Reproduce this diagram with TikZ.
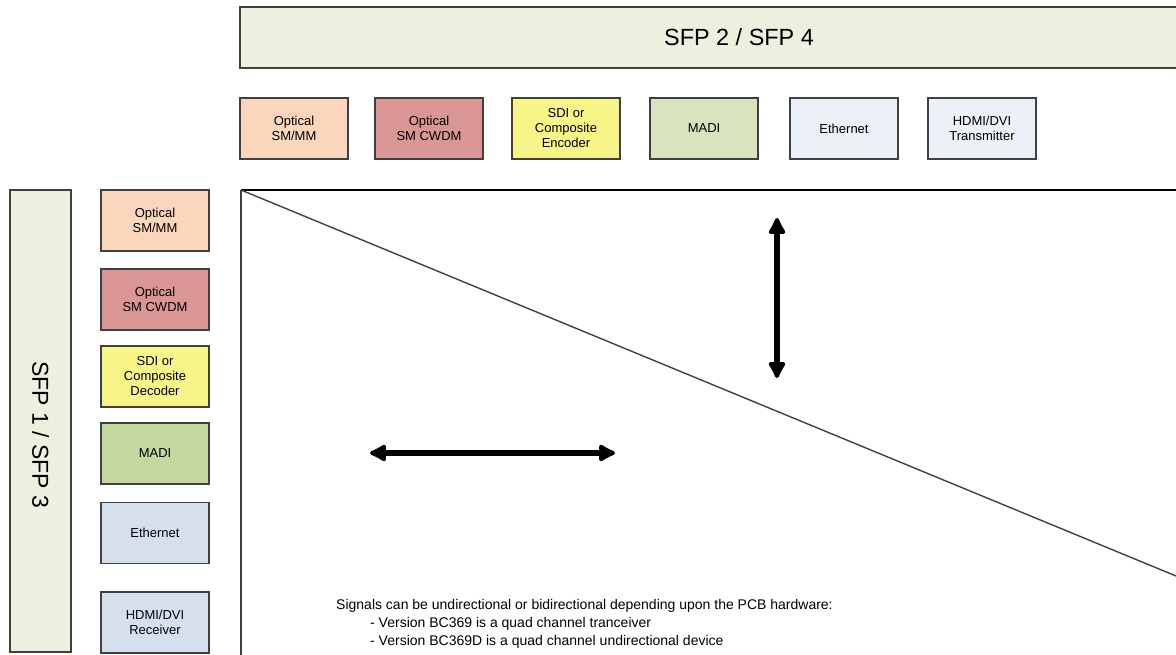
\documentclass[tikz,border=0pt]{standalone}
\usepackage{fontspec}
\setmainfont{Liberation Sans}
\usetikzlibrary{arrows.meta}

\definecolor{sfpgreen}{HTML}{EBF1DE}
\definecolor{peach}{HTML}{FAD7BC}
\definecolor{cwdm}{HTML}{D99694}
\definecolor{sdiyellow}{HTML}{F8F588}
\definecolor{madilight}{HTML}{D7E4BD}
\definecolor{madidark}{HTML}{C4D79C}
\definecolor{ethlight}{HTML}{ECF0F7}
\definecolor{ethdark}{HTML}{D5E0EC}
\definecolor{edge}{HTML}{404040}

\tikzset{
  modbox/.style={draw=edge, line width=1.3pt, minimum width=108pt, minimum height=61pt,
    inner sep=0pt, align=center, font=\fontsize{13}{15}\selectfont},
  sfpbox/.style={draw=edge, line width=1.3pt, fill=sfpgreen, inner sep=0pt},
  bigarrow/.style={line width=6pt, {Latex[length=20pt,width=21pt,round]}-{Latex[length=20pt,width=21pt,round]}}
}

\begin{document}
\begin{tikzpicture}[x=1pt,y=-1pt]
\useasboundingbox (0,0) rectangle (1176,655);

% SFP headers
\node[sfpbox, minimum width=998pt, minimum height=61pt, font=\fontsize{23.4}{26}\selectfont] (sfpB) at (739,37.5) {SFP 2 / SFP 4};
\node[sfpbox, minimum width=61pt, minimum height=462pt] (sfpA) at (40.5,421) {};
\node[rotate=-90, font=\fontsize{23}{26}\selectfont] (sfpAtxt) at (40.5,435) {SFP 1 / SFP 3};

% top row
\node[modbox, fill=peach] (tOpt) at (294,128.5) {Optical\\SM/MM};
\node[modbox, fill=cwdm] (tCwdm) at (429,128.5) {Optical\\SM CWDM};
\node[modbox, fill=sdiyellow] (tSdi) at (566,128.5) {SDI or\\Composite\\Encoder};
\node[modbox, fill=madilight] (tMadi) at (704,128.5) {MADI};
\node[modbox, fill=ethlight] (tEth) at (844,128.5) {Ethernet};
\node[modbox, fill=ethlight] (tHdmi) at (982,128.5) {HDMI/DVI\\Transmitter};

% left column
\node[modbox, fill=peach] (lOpt) at (155,220.5) {Optical\\SM/MM};
\node[modbox, fill=cwdm] (lCwdm) at (155,299.5) {Optical\\SM CWDM};
\node[modbox, fill=sdiyellow] (lSdi) at (155,376.5) {SDI or\\Composite\\Decoder};
\node[modbox, fill=madidark] (lMadi) at (155,453.5) {MADI};
\node[modbox, fill=ethdark] (lEth) at (155,533) {Ethernet};
\node[modbox, fill=ethdark] (lHdmi) at (155,622.5) {HDMI/DVI\\Receiver};

% matrix area
\coordinate (O) at (241,190);
\coordinate (R) at (1176,190);
\coordinate (D) at (241,655);
\coordinate (Q) at (1176,576);
\draw[line width=1.8pt] (O) -- (R);
\draw[line width=1.8pt, draw=edge] (O) -- (D);
\draw[line width=1.4pt, draw=edge] (O) -- (Q);

\coordinate (v1) at (777,218);
\coordinate (v2) at (777,378);
\coordinate (h1) at (370,453);
\coordinate (h2) at (615,453);
\draw[bigarrow] (v1) -- (v2);
\draw[bigarrow] (h1) -- (h2);

\node[anchor=north west, align=left, inner sep=0pt, font=\fontsize{14}{18}\selectfont] (note) at (336,599)
  {Signals can be undirectional or bidirectional depending upon the PCB hardware:\\
   \hspace*{34pt}- Version BC369 is a quad channel tranceiver\\
   \hspace*{34pt}- Version BC369D is a quad channel undirectional device};
\end{tikzpicture}
\end{document}
